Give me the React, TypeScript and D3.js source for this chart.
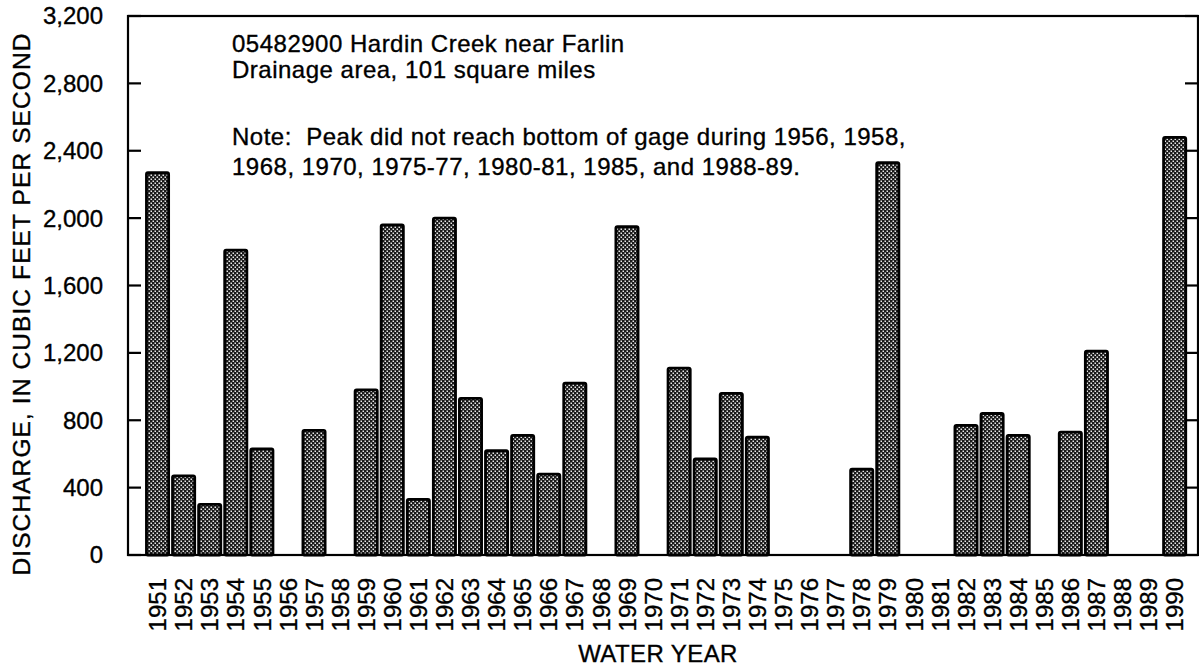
import React from "react";
import * as d3 from "d3";

const years: number[] = [
  1951, 1952, 1953, 1954, 1955, 1956, 1957, 1958, 1959, 1960,
  1961, 1962, 1963, 1964, 1965, 1966, 1967, 1968, 1969, 1970,
  1971, 1972, 1973, 1974, 1975, 1976, 1977, 1978, 1979, 1980,
  1981, 1982, 1983, 1984, 1985, 1986, 1987, 1988, 1989, 1990,
];

// null = peak did not reach bottom of gage
const discharge: (number | null)[] = [
  2270, 470, 300, 1810, 630, null, 740, null, 980, 1960,
  330, 2000, 930, 620, 710, 480, 1020, null, 1950, null,
  1110, 570, 960, 700, null, null, null, 510, 2330, null,
  null, 770, 840, 710, null, 730, 1210, null, null, 2480,
];

const yTicks: number[] = [0, 400, 800, 1200, 1600, 2000, 2400, 2800, 3200];

const titleLines: string[] = [
  "05482900 Hardin Creek near Farlin",
  "Drainage area, 101 square miles",
];
const noteLines: string[] = [
  "Note:  Peak did not reach bottom of gage during 1956, 1958,",
  "1968, 1970, 1975-77, 1980-81, 1985, and 1988-89.",
];

const W = 1199;
const H = 666;
const LEFT = 128;
const RIGHT = 1198;
const TOP = 16;
const BOTTOM = 555;
const FONT = "'Liberation Sans', Arial, Helvetica, sans-serif";
const TXT = { fill: "#000", stroke: "#000", strokeWidth: 0.35 };

export default function App() {
  const x = d3
    .scaleBand<number>()
    .domain(years)
    .range([144.5, 1187.7])
    .paddingInner(0.15)
    .paddingOuter(0.075);
  const y = d3.scaleLinear().domain([0, 3200]).range([BOTTOM, TOP]);
  const fmt = d3.format(",");

  return (
    <svg
      width={W}
      height={H}
      style={{ position: "absolute", left: 0, top: 0, background: "#fff" }}
      fontFamily={FONT}
    >
      <defs>
        <pattern id="stipple" width="4" height="4" patternUnits="userSpaceOnUse">
          <rect width="4" height="4" fill="#1a1a1a" />
          <rect x="0.5" y="0.5" width="1.5" height="1.5" fill="#e8e8e8" />
          <rect x="2.5" y="2.5" width="1.5" height="1.5" fill="#e8e8e8" />
        </pattern>
      </defs>
      <rect width={W} height={H} fill="#fff" />

      {/* bars */}
      {years.map((yr, i) => {
        const v = discharge[i];
        if (v == null) return null;
        const bx = x(yr) as number;
        return (
          <rect
            key={yr}
            x={bx}
            y={y(v)}
            width={x.bandwidth()}
            height={BOTTOM - y(v)}
            fill="url(#stipple)"
            stroke="#000"
            strokeWidth={2.8}
            rx={1.5}
          />
        );
      })}

      {/* frame */}
      <rect
        x={LEFT}
        y={TOP}
        width={RIGHT - LEFT}
        height={BOTTOM - TOP}
        fill="none"
        stroke="#000"
        strokeWidth={2.2}
      />

      {/* y ticks both sides */}
      {yTicks.map((t) => (
        <g key={t}>
          <line x1={LEFT} x2={LEFT + 13} y1={y(t)} y2={y(t)} stroke="#000" strokeWidth={2.2} />
          <line x1={RIGHT} x2={RIGHT - 13} y1={y(t)} y2={y(t)} stroke="#000" strokeWidth={2.2} />
          <text x={103} y={y(t)} dy="0.35em" textAnchor="end" fontSize={24} {...TXT}>
            {fmt(t)}
          </text>
        </g>
      ))}

      {/* x labels */}
      {years.map((yr) => {
        const cx = (x(yr) as number) + x.bandwidth() / 2;
        return (
          <text
            key={yr}
            transform={`translate(${cx},578) rotate(-90)`}
            dy="0.36em"
            textAnchor="end"
            fontSize={24}
            {...TXT}
          >
            {yr}
          </text>
        );
      })}

      {/* axis titles */}
      <text x={658} y={662} textAnchor="middle" fontSize={24} letterSpacing={0.4} {...TXT}>
        WATER YEAR
      </text>
      <text
        transform="translate(30,304) rotate(-90)"
        textAnchor="middle"
        fontSize={24.5}
        letterSpacing={1.1}
        {...TXT}
      >
        DISCHARGE, IN CUBIC FEET PER SECOND
      </text>

      {/* annotations */}
      {titleLines.map((s, i) => (
        <text key={s} x={232} y={52 + i * 26} fontSize={24} letterSpacing={0.5} {...TXT}>
          {s}
        </text>
      ))}
      {noteLines.map((s, i) => (
        <text
          key={s}
          x={232}
          y={145 + i * 30}
          fontSize={24}
          letterSpacing={0.5}
          style={{ whiteSpace: "pre" }}
          {...TXT}
        >
          {s}
        </text>
      ))}
    </svg>
  );
}
